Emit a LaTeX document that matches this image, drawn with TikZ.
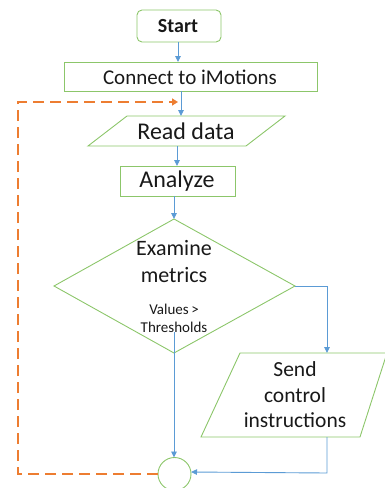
\documentclass[tikz,border=0pt]{standalone}
\usepackage{fontspec}
\setmainfont{Carlito}
\usetikzlibrary{arrows.meta}
\definecolor{gr}{HTML}{8CC66A}
\definecolor{bl}{HTML}{5B9BD5}
\definecolor{orr}{HTML}{ED7D31}
\begin{document}
\begin{tikzpicture}[x=1pt,y=-1pt,
  shp/.style={draw=gr,line width=0.9pt},
  txt/.style={inner sep=0pt,align=center,text=black!90},
  flow/.style={draw=bl,line width=0.9pt,-{Triangle[width=5.5pt,length=6pt]}},
  back/.style={draw=orr,line width=1.8pt,dash pattern=on 11pt off 6pt,-{Triangle[width=7pt,length=6pt]}}]
\useasboundingbox (0,0) rectangle (385,488);
% Start
\draw[shp,rounded corners=5pt] (137,10) rectangle (221,42);
\node[txt,font=\fontsize{20}{22}\selectfont\bfseries] (start) at (178,26.5) {Start};
% Connect
\draw[shp] (64,62) rectangle (317,91);
\node[txt,font=\fontsize{21}{24}\selectfont] (conn) at (190,77) {Connect to iMotions};
% Read data
\draw[shp] (127,116) -- (285,116) -- (246,146) -- (88,146) -- cycle;
\node[txt,font=\fontsize{24}{26}\selectfont] (read) at (186,131) {Read data};
% Analyze
\draw[shp] (120,166) rectangle (235,196);
\node[txt,font=\fontsize{24}{26}\selectfont] (anal) at (177,181) {Analyze};
% Diamond
\draw[shp] (174,219) -- (295,286) -- (174,353) -- (54,286) -- cycle;
\node[txt,font=\fontsize{22}{27}\selectfont] (exam) at (174,262) {Examine\\metrics};
\node[txt,font=\fontsize{15}{18}\selectfont] (vals) at (174,318) {Values\,>\\Thresholds};
% Send
\draw[shp] (240,353) -- (387,353) -- (360,437) -- (201,437) -- cycle;
\node[txt,font=\fontsize{21.5}{25.5}\selectfont] (send) at (295,395) {Send\\control\\instructions};
% Circle
\draw[shp] (174.5,474) circle (16.5);
\coordinate (circ) at (174.5,474);
% connectors
\coordinate (s1) at (178,42); \coordinate (s2) at (178,62);
\draw[flow] (s1) -- (s2);
\coordinate (c1) at (181,91); \coordinate (c2) at (181,116);
\draw[flow] (c1) -- (c2);
\coordinate (r1) at (177,146); \coordinate (r2) at (177,166);
\draw[flow] (r1) -- (r2);
\coordinate (a1) at (174,196); \coordinate (a2) at (174,219);
\draw[flow] (a1) -- (a2);
\coordinate (d1) at (295,286); \coordinate (d2) at (327,353);
\draw[flow] (d1) -| (d2);
\coordinate (v1) at (174,332); \coordinate (ctop) at (174,457.5);
\draw[flow] (v1) -- (ctop);
\coordinate (e1) at (327,437); \coordinate (e2) at (327,473); \coordinate (cright) at (191,472);
\draw[flow] (e1) -- (e2) -- (cright);
\coordinate (cleft) at (158,474); \coordinate (o1) at (18,474); \coordinate (o2) at (18,102); \coordinate (o3) at (178,102);
\draw[back] (cleft) -- (o1) -- (o2) -- (o3);
\end{tikzpicture}
\end{document}
